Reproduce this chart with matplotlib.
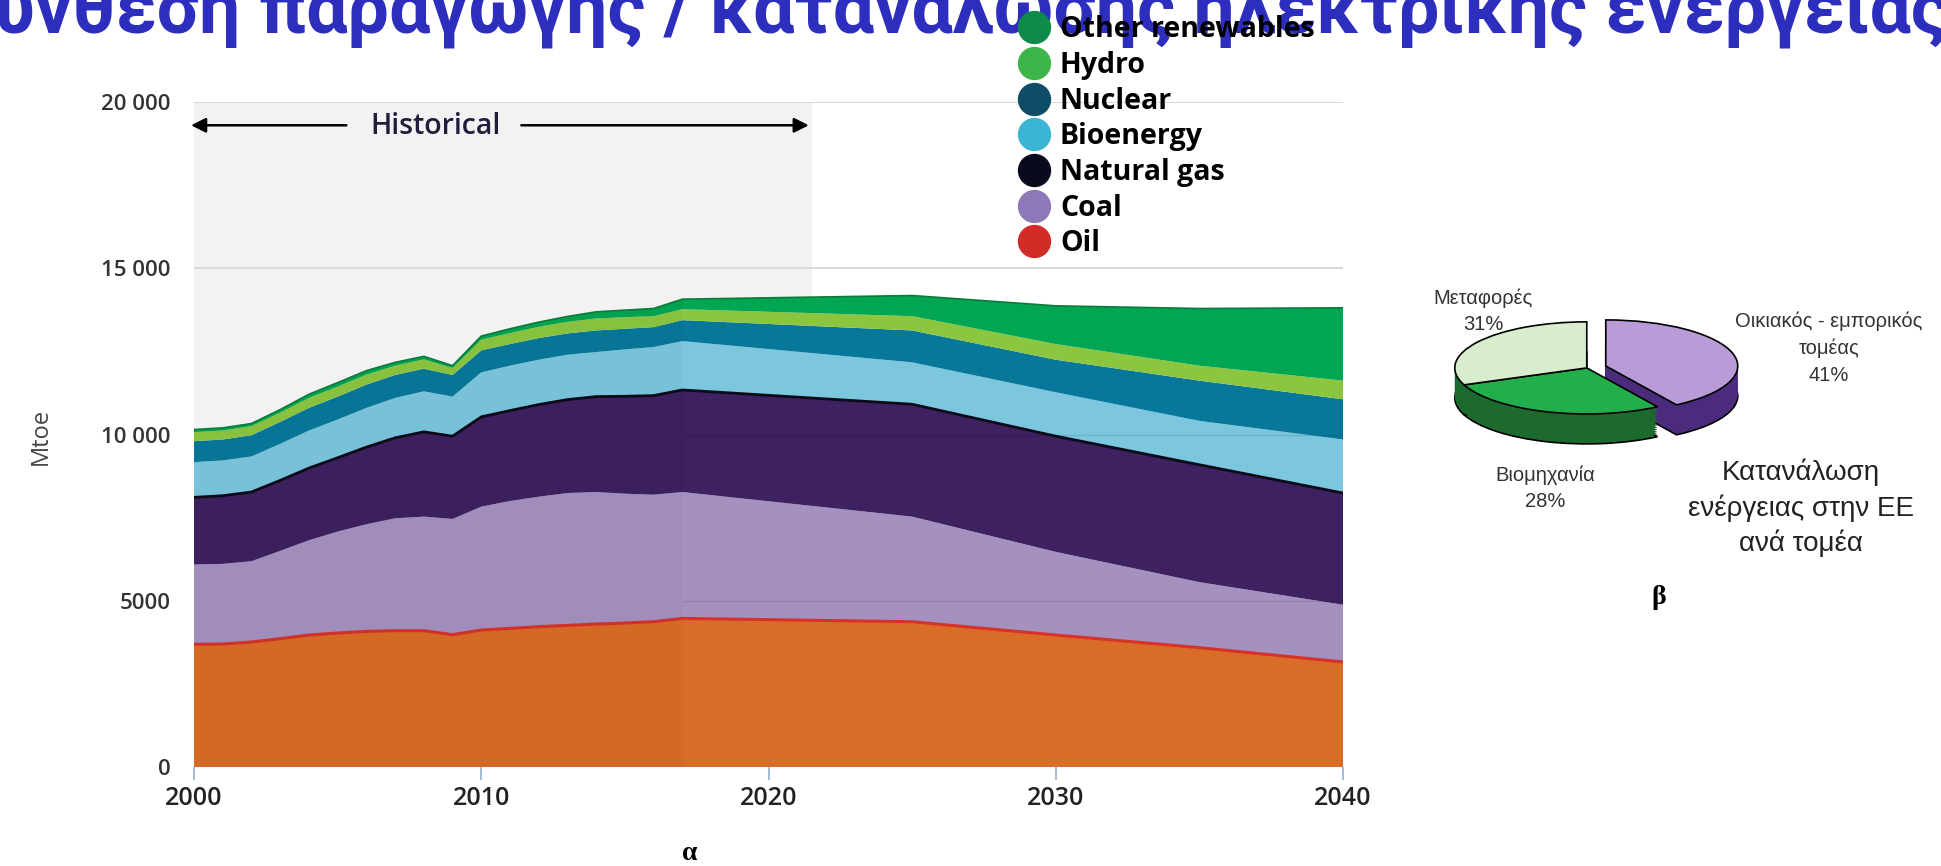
"""Primary energy demand by fuel (stacked area) and EU energy use by sector (pie)."""

import numpy as np
import matplotlib
matplotlib.use('Agg')
import matplotlib.pyplot as plt
from matplotlib.lines import Line2D

# ---- data (Mtoe) ----
years = [2000, 2001, 2002, 2003, 2004, 2005, 2006, 2007, 2008, 2009, 2010,
         2011, 2012, 2013, 2014, 2015, 2016, 2017, 2025, 2030, 2035, 2040]
oil = [3690, 3700, 3760, 3860, 3970, 4030, 4080, 4100, 4100, 3980, 4120,
       4170, 4220, 4260, 4300, 4330, 4370, 4470, 4370, 3970, 3590, 3160]
coal = [2400, 2410, 2430, 2640, 2850, 3050, 3220, 3380, 3430, 3480, 3710,
        3830, 3910, 3980, 3970, 3890, 3820, 3800, 3160, 2500, 1970, 1720]
gas = [2020, 2050, 2080, 2120, 2170, 2220, 2320, 2420, 2550, 2490, 2700,
       2720, 2770, 2810, 2870, 2930, 2980, 3070, 3380, 3480, 3530, 3360]
bio = [1060, 1060, 1070, 1100, 1130, 1150, 1180, 1200, 1220, 1190, 1340,
       1350, 1350, 1350, 1340, 1410, 1460, 1470, 1260, 1320, 1320, 1610]
nuclear = [630, 630, 640, 660, 680, 690, 700, 690, 680, 650, 660,
           650, 650, 640, 650, 620, 600, 630, 960, 980, 1210, 1210]
hydro = [270, 270, 270, 280, 300, 300, 300, 280, 280, 210, 320,
         330, 340, 350, 360, 350, 330, 330, 430, 470, 450, 560]
other_ren = [80, 80, 80, 90, 110, 120, 120, 100, 90, 70, 110,
             130, 140, 160, 200, 210, 230, 300, 620, 1150, 1720, 2190]

fuels = ['Oil', 'Coal', 'Natural gas', 'Bioenergy', 'Nuclear', 'Hydro', 'Other renewables']
area_colors = ['#D96C26', '#A591C0', '#3D2160', '#7CC6DE', '#08789A', '#8CC63F', '#00A651']
legend_colors = ['#D22B28', '#8D78B8', '#0A0A1E', '#3CB4D4', '#0D4E66', '#3DB54A', '#0E8A4A']

yticks = [0, 5000, 10000, 15000, 20000]
ytick_labels = ['0', '5000', '10 000', '15 000', '20 000']
xticks = [2000, 2010, 2020, 2030, 2040]

sectors = ['Οικιακός - εμπορικός τομέας', 'Βιομηχανία', 'Μεταφορές']
shares = [41, 28, 31]
pie_top = ['#B99BD8', '#22AE4B', '#D8EDCE']
pie_side = ['#4B2C7C', '#1D6A2F', '#1D6A2F']

plt.rcParams['font.family'] = ['Open Sans', 'DejaVu Sans']

fig = plt.figure(figsize=(19.41, 8.66), dpi=100)

# ---- stacked area chart ----
ax = fig.add_axes([0.09995, 0.1143, 0.59196, 0.7679])
ax.axvspan(2000, 2021.5, color='#F2F2F2', zorder=0, lw=0)
ax.axhline(15000, color='#D9D9D9', lw=1.5, zorder=1)
ax.axhline(20000, color='#D9D9D9', lw=1.5, zorder=1)

series = [oil, coal, gas, bio, nuclear, hydro, other_ren]
ax.stackplot(years, *series, colors=area_colors, lw=0, zorder=2)
tops = np.cumsum(np.array(series), axis=0)
ax.plot(years, tops[0], color='#D7322A', lw=2.2, zorder=3)
ax.plot(years, tops[2], color='#0B0B1A', lw=2, zorder=3)
ax.plot(years, tops[6], color='#0B7A3A', lw=1.2, zorder=3)

# historical part looks slightly darker
hist = [i for i, y in enumerate(years) if y <= 2017]
ax.fill_between([years[i] for i in hist], 0, [tops[6][i] for i in hist],
                color='black', alpha=0.025, lw=0, zorder=3)
# faint gridlines over projection
ax.hlines([5000, 10000], 2017, 2040, color='black', alpha=0.1, lw=1, zorder=3)

ax.set_xlim(2000, 2040)
ax.set_ylim(0, 20000)
for s in ax.spines.values():
    s.set_visible(False)
ax.set_yticks(yticks)
ax.set_yticklabels(ytick_labels)
ax.set_xticks(xticks)
ax.tick_params(axis='y', length=0, pad=17, labelsize=16, labelcolor='#333333')
ax.tick_params(axis='x', length=9, width=1.3, color='#9FB4D0', pad=5,
               labelsize=18, labelcolor='#222222')
for t in ax.get_yticklabels() + ax.get_xticklabels():
    t.set_fontweight('semibold')

# historical arrows
ax.annotate('', xy=(1999.8, 19300), xytext=(2005.4, 19300), annotation_clip=False,
            arrowprops=dict(arrowstyle='-|>', color='black', lw=1.8, mutation_scale=22))
ax.annotate('', xy=(2021.5, 19300), xytext=(2011.3, 19300), annotation_clip=False,
            arrowprops=dict(arrowstyle='-|>', color='black', lw=1.8, mutation_scale=22))
ax.text(2008.4, 19250, 'Historical', ha='center', va='center', fontsize=20.5,
        fontweight='semibold', color='#1E1E3A')

fig.text(41 / 1941, 1 - 436 / 866, 'Mtoe', rotation=90, ha='center', va='center',
         fontsize=17, color='#444444')
fig.text(690 / 1941, 1 - 854 / 866, 'α', ha='center', va='center', fontsize=20,
         family='Liberation Serif', fontweight='bold')

handles = [Line2D([], [], marker='o', ls='', markersize=23, color=c)
           for c in legend_colors[::-1]]
fig.legend(handles, fuels[::-1], loc='upper left', bbox_to_anchor=(1003 / 1941, 1 - 1 / 866),
           frameon=False, prop={'weight': 'bold', 'size': 20.5},
           labelspacing=0.235, handletextpad=0.3, borderpad=0, handlelength=1.2)

# ---- title (cut at the top edge) ----
fig.text(1.004, 1 - 33 / 866, 'Σύνθεση παραγωγής / κατανάλωσης ηλεκτρικής ενέργειας',
         ha='right', va='baseline', fontsize=53, fontweight='bold', color='#2E2EBE',
         family=['Roboto', 'DejaVu Sans'], zorder=0)

# ---- pseudo 3D pie ----
pax = fig.add_axes([0.7223, 0.4688, 0.2040, 0.1755])
depth = 0.65
explode = [0.15, 0, 0]
for k in np.linspace(-depth, 0, 14)[:-1]:
    first = k == -depth
    pax.pie(shares, colors=pie_side, startangle=90, counterclock=False, explode=explode,
            center=(0, k), radius=1,
            wedgeprops=dict(lw=1.2 if first else 0, edgecolor='black'))
pax.pie(shares, colors=pie_top, startangle=90, counterclock=False, explode=explode,
        center=(0, 0), radius=1, wedgeprops=dict(lw=1.2, edgecolor='black'))
pax.set_aspect('auto')
pax.set_xlim(-1.4, 1.6)
pax.set_ylim(-2.0, 1.3)
pax.axis('off')

lab = dict(ha='center', va='center', fontsize=14.5, color='#333333', family='Liberation Sans',
           linespacing=1.5)
fig.text(1483 / 1941, 1 - 311 / 866, 'Μεταφορές\n31%', **lab)
fig.text(1829 / 1941, 1 - 348 / 866, 'Οικιακός - εμπορικός\nτομέας\n41%', **lab)
fig.text(1545 / 1941, 1 - 488 / 866, 'Βιομηχανία\n28%', **lab)
fig.text(1801 / 1941, 1 - 508 / 866, 'Κατανάλωση\nενέργειας στην ΕΕ\nανά τομέα',
         ha='center', va='center', fontsize=20, color='#222222', family='Liberation Sans',
         linespacing=1.38)
fig.text(1659 / 1941, 1 - 597 / 866, 'β', ha='center', va='center', fontsize=20,
         family='Liberation Serif', fontweight='bold')

fig.savefig('out.png', dpi=100)
